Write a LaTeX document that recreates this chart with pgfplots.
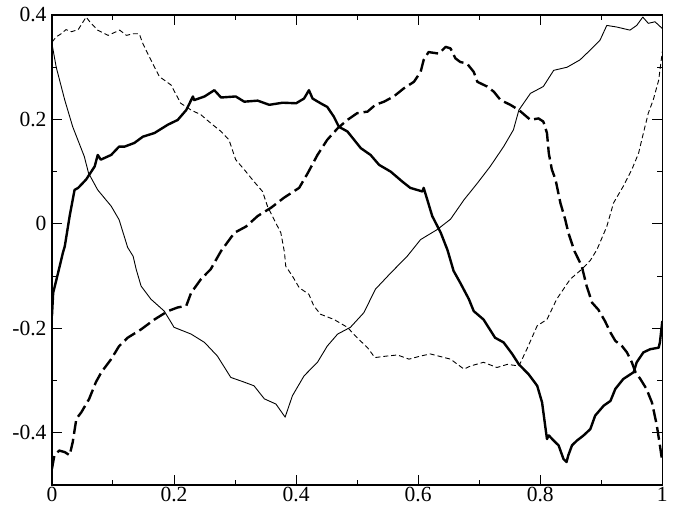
\documentclass[border=0pt]{standalone}
\usepackage{fontspec}
\setmainfont{Liberation Serif}
\usepackage{pgfplots}
\pgfplotsset{compat=1.18}
\begin{document}
\begin{tikzpicture}
\path[use as bounding box] (-26.03pt,-11.5pt) rectangle (315.15pt,243pt);
\begin{axis}[
  scale only axis, width=305.8pt, height=235.5pt,
  xmin=0, xmax=1, ymin=-0.5, ymax=0.4,
  xtick={0,0.2,0.4,0.6,0.8,1}, xticklabels={0,0.2,0.4,0.6,0.8,1},
  ytick={-0.4,-0.2,0,0.2,0.4}, yticklabels={-0.4,-0.2,0,0.2,0.4},
  minor x tick num=1, minor y tick num=1,
  xtick pos=both, ytick pos=both, xticklabel pos=lower, yticklabel pos=left,
  tick align=inside,
  major tick length=5pt, minor tick length=2.5pt,
  tick style={black, line width=0.5pt},
  axis line style={line width=0.6pt},
  ticklabel style={font=\fontsize{10.8}{13}\selectfont},
  yticklabel style={xshift=0.8pt},
  xticklabel style={yshift=1pt, inner sep=2pt},
  every axis plot/.append style={no marks, black, line join=round},
]
% thin solid
\addplot[line width=0.45pt] table {
0 0.345
0.007 0.30
0.021 0.237
0.034 0.186
0.053 0.129
0.06 0.097
0.075 0.065
0.097 0.034
0.11 0.008
0.124 -0.045
0.133 -0.062
0.138 -0.087
0.146 -0.119
0.162 -0.144
0.184 -0.167
0.2 -0.198
0.228 -0.211
0.25 -0.227
0.271 -0.253
0.293 -0.294
0.315 -0.303
0.331 -0.31
0.348 -0.335
0.367 -0.345
0.382 -0.37
0.394 -0.329
0.413 -0.291
0.435 -0.265
0.451 -0.234
0.468 -0.211
0.489 -0.198
0.511 -0.17
0.53 -0.125
0.555 -0.094
0.582 -0.062
0.604 -0.03
0.631 -0.011
0.653 0.009
0.675 0.046
0.697 0.078
0.718 0.11
0.74 0.148
0.756 0.18
0.765 0.218
0.784 0.25
0.805 0.263
0.822 0.294
0.844 0.3
0.865 0.314
0.882 0.333
0.898 0.352
0.909 0.38
0.925 0.377
0.947 0.371
0.958 0.38
0.968 0.396
0.977 0.384
0.988 0.387
1.0 0.374
};
% thin dashed
\addplot[line width=0.45pt, dash pattern=on 2.5pt off 1.5pt] table {
0 0.348
0.007 0.358
0.015 0.364
0.023 0.372
0.032 0.368
0.043 0.372
0.056 0.396
0.064 0.384
0.075 0.371
0.092 0.361
0.111 0.371
0.122 0.361
0.133 0.364
0.143 0.364
0.149 0.345
0.162 0.314
0.176 0.282
0.195 0.266
0.211 0.231
0.228 0.218
0.244 0.209
0.26 0.193
0.277 0.177
0.29 0.161
0.301 0.123
0.315 0.104
0.331 0.081
0.345 0.062
0.353 0.034
0.364 0.008
0.375 -0.017
0.381 -0.055
0.383 -0.081
0.394 -0.1
0.405 -0.122
0.421 -0.135
0.429 -0.157
0.44 -0.173
0.462 -0.183
0.484 -0.198
0.5 -0.218
0.517 -0.237
0.529 -0.256
0.549 -0.253
0.566 -0.251
0.585 -0.259
0.604 -0.253
0.62 -0.249
0.653 -0.259
0.675 -0.278
0.686 -0.272
0.707 -0.265
0.729 -0.275
0.746 -0.269
0.765 -0.272
0.778 -0.24
0.795 -0.195
0.811 -0.183
0.827 -0.144
0.849 -0.106
0.868 -0.087
0.882 -0.07
0.893 -0.049
0.909 -0.005
0.92 0.04
0.936 0.072
0.95 0.104
0.961 0.135
0.969 0.174
0.977 0.212
0.985 0.237
0.994 0.275
1.0 0.33
};
% thick solid
\addplot[line width=1.2pt] table {
0 -0.176
0.002 -0.132
0.01 -0.094
0.018 -0.055
0.021 -0.043
0.029 0.015
0.037 0.065
0.043 0.069
0.056 0.085
0.07 0.11
0.075 0.132
0.08 0.123
0.097 0.132
0.11 0.148
0.119 0.148
0.135 0.155
0.149 0.167
0.168 0.174
0.19 0.19
0.206 0.199
0.22 0.218
0.231 0.244
0.233 0.237
0.25 0.244
0.266 0.256
0.277 0.242
0.301 0.244
0.315 0.234
0.337 0.236
0.356 0.228
0.378 0.232
0.4 0.231
0.413 0.24
0.421 0.256
0.427 0.24
0.44 0.231
0.451 0.224
0.462 0.205
0.47 0.186
0.484 0.177
0.495 0.161
0.506 0.145
0.522 0.132
0.536 0.113
0.555 0.1
0.574 0.081
0.587 0.069
0.607 0.062
0.609 0.069
0.615 0.046
0.623 0.015
0.637 -0.017
0.648 -0.05
0.658 -0.09
0.669 -0.113
0.683 -0.144
0.691 -0.167
0.707 -0.183
0.726 -0.218
0.74 -0.227
0.754 -0.249
0.765 -0.269
0.781 -0.288
0.795 -0.31
0.803 -0.342
0.808 -0.386
0.811 -0.412
0.814 -0.405
0.822 -0.415
0.83 -0.424
0.838 -0.45
0.843 -0.456
0.846 -0.443
0.852 -0.424
0.86 -0.415
0.871 -0.405
0.882 -0.393
0.89 -0.367
0.904 -0.348
0.915 -0.339
0.923 -0.316
0.936 -0.297
0.953 -0.284
0.958 -0.265
0.969 -0.246
0.98 -0.24
0.994 -0.237
0.996 -0.227
1.0 -0.186
};
% thick dashed
\addplot[line width=1.2pt, dash pattern=on 6.5pt off 2.5pt] table {
0 -0.469
0.004 -0.443
0.012 -0.434
0.021 -0.437
0.029 -0.443
0.034 -0.418
0.04 -0.373
0.048 -0.361
0.061 -0.335
0.072 -0.303
0.081 -0.284
0.097 -0.259
0.11 -0.234
0.124 -0.218
0.146 -0.202
0.168 -0.183
0.19 -0.167
0.206 -0.16
0.22 -0.157
0.228 -0.132
0.244 -0.106
0.26 -0.087
0.277 -0.052
0.299 -0.017
0.318 -0.005
0.337 0.015
0.359 0.031
0.38 0.05
0.405 0.069
0.419 0.097
0.435 0.132
0.451 0.161
0.468 0.183
0.484 0.199
0.5 0.212
0.517 0.215
0.53 0.228
0.544 0.234
0.56 0.244
0.577 0.26
0.593 0.272
0.604 0.291
0.609 0.314
0.617 0.329
0.634 0.326
0.645 0.339
0.653 0.336
0.661 0.317
0.669 0.31
0.68 0.307
0.691 0.291
0.697 0.272
0.713 0.263
0.724 0.253
0.735 0.237
0.751 0.228
0.765 0.218
0.784 0.199
0.797 0.202
0.805 0.196
0.811 0.174
0.814 0.135
0.819 0.104
0.825 0.085
0.833 0.04
0.841 0.008
0.846 -0.017
0.856 -0.052
0.868 -0.081
0.876 -0.119
0.885 -0.151
0.895 -0.164
0.906 -0.186
0.915 -0.208
0.923 -0.224
0.934 -0.234
0.942 -0.246
0.95 -0.265
0.956 -0.284
0.964 -0.297
0.974 -0.316
0.983 -0.342
0.991 -0.386
0.996 -0.424
1.0 -0.456
};
\end{axis}
\end{tikzpicture}
\end{document}
